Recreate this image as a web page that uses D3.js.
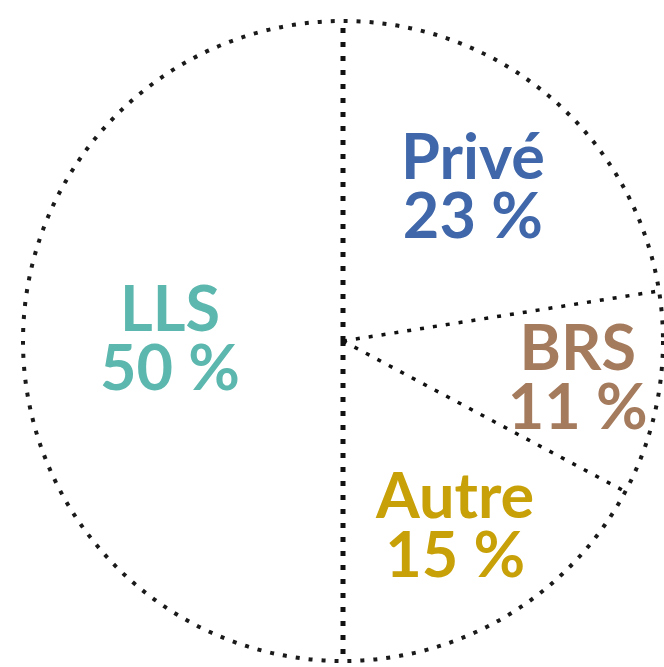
<!DOCTYPE html>
<html>
<head>
<meta charset="utf-8">
<script src="https://cdn.jsdelivr.net/npm/d3@7"></script>
<style>
  body { margin: 0; background: #fff; }
  svg { display: block; }
  .lbl { font-family: Lato, "Open Sans", sans-serif; font-weight: 700; font-size: 63px; text-anchor: middle; }
</style>
</head>
<body>
<svg id="chart" width="664" height="667"></svg>
<script>
var categories = ['Privé', 'BRS', 'Autre', 'LLS'];
var values = [22.5, 10.3, 17.2, 50];
var pctLabels = ['23 %', '11 %', '15 %', '50 %'];
var colors = ['#3f67a9', '#a57b5e', '#c8a008', '#5cb7ae'];
var labelRadius = [200, 238, 218, 173];

var svg = d3.select('#chart');
var cx = 343, cy = 341, radius = 320;

var g = svg.append('g').attr('transform', 'translate(' + cx + ',' + cy + ')');

var pie = d3.pie().sort(null).value(function(d) { return d; });
var arcs = pie(values);

var arc = d3.arc().innerRadius(0).outerRadius(radius);

g.selectAll('path.slice')
    .data(arcs)
    .enter()
    .append('path')
    .attr('class', 'slice')
    .attr('d', arc)
    .attr('fill', '#fff');

// dotted outline
g.append('circle')
    .attr('r', radius)
    .attr('fill', 'none')
    .attr('stroke', '#1a1a1a')
    .attr('stroke-width', 4)
    .attr('stroke-dasharray', '4 9');

// slice boundaries, the vertical split is drawn heavier
function isMain(a) { return Math.abs(a) < 0.01 || Math.abs(a - Math.PI) < 0.01; }
var bounds = arcs.map(function(d) { return d.startAngle; });
g.selectAll('line.bound')
    .data(bounds)
    .enter()
    .append('line')
    .attr('class', 'bound')
    .attr('x1', 0).attr('y1', 0)
    .attr('x2', function(a) { return radius * Math.sin(a); })
    .attr('y2', function(a) { return -radius * Math.cos(a); })
    .attr('stroke', '#111')
    .attr('stroke-width', function(a) { return isMain(a) ? 5 : 3.5; })
    .attr('stroke-dasharray', function(a) { return isMain(a) ? '5 9' : '4 9'; });

// labels
var labels = g.selectAll('text.lbl')
    .data(arcs)
    .enter()
    .append('text')
    .attr('class', 'lbl')
    .attr('fill', function(d, i) { return colors[i]; })
    .attr('transform', function(d, i) {
        var a = (d.startAngle + d.endAngle) / 2;
        var r = labelRadius[i];
        return 'translate(' + (r * Math.sin(a)) + ',' + (-r * Math.cos(a) - 6) + ')';
    });

labels.append('tspan')
    .attr('x', 0)
    .attr('y', -4)
    .text(function(d, i) { return categories[i]; });

labels.append('tspan')
    .attr('x', 0)
    .attr('y', 55)
    .text(function(d, i) { return pctLabels[i]; });
</script>
</body>
</html>
